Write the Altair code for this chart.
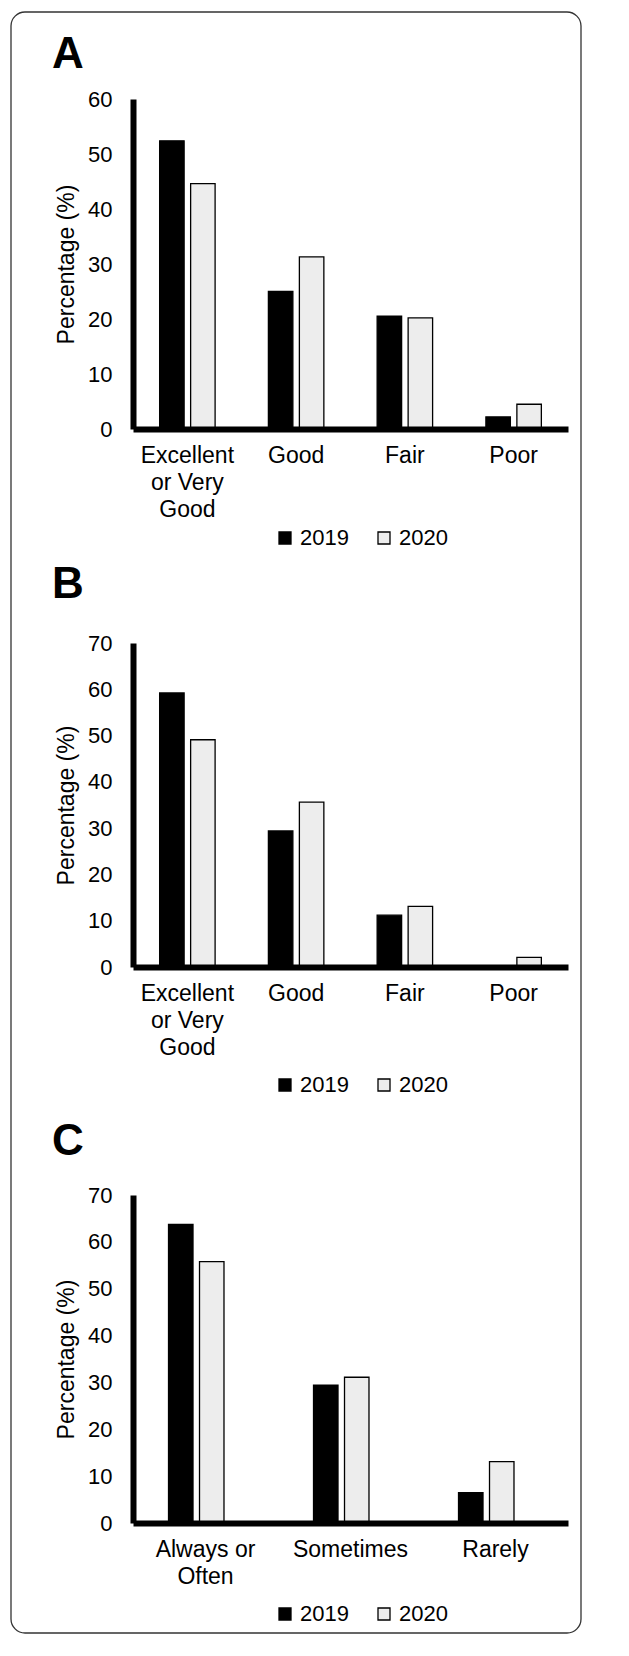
import altair as alt
import pandas as pd

FONT = "Liberation Sans"
YEARS = ["2019", "2020"]
YEAR_COLORS = ["#000000", "#ededed"]

A_CATS = ["Excellent or Very Good", "Good", "Fair", "Poor"]
A_2019 = [52.4, 25.0, 20.5, 2.2]
A_2020 = [44.6, 31.3, 20.2, 4.5]

B_CATS = ["Excellent or Very Good", "Good", "Fair", "Poor"]
B_2019 = [59.2, 29.4, 11.2, 0.0]
B_2020 = [49.1, 35.6, 13.1, 2.1]

C_CATS = ["Always or Often", "Sometimes", "Rarely"]
C_2019 = [63.7, 29.4, 6.5]
C_2020 = [55.8, 31.1, 13.1]

LABEL_LINES = {
    "Excellent or Very Good": ["Excellent", "or Very", "Good"],
    "Always or Often": ["Always or", "Often"],
}

PLOT_W = 435


def label_expr():
    parts = []
    for k, lines in LABEL_LINES.items():
        arr = "[" + ", ".join("'" + s + "'" for s in lines) + "]"
        parts.append("datum.label == '" + k + "' ? " + arr + " : ")
    return "".join(parts) + "datum.label"


def panel(letter, cats, v19, v20, ymax, height, legend_y, letter_y, border=False):
    df = pd.DataFrame({
        "category": cats * 2,
        "year": [YEARS[0]] * len(cats) + [YEARS[1]] * len(cats),
        "value": v19 + v20,
    })
    bars = alt.Chart(df).mark_bar(stroke="black", strokeWidth=1.3).encode(
        x=alt.X(
            "category:N", sort=cats, title=None,
            scale=alt.Scale(paddingInner=0.49, paddingOuter=0.245),
            axis=alt.Axis(
                labelAngle=0, labelFontSize=23, labelFont=FONT, labelColor="black",
                labelPadding=15, labelLineHeight=27, labelExpr=label_expr(),
                domainColor="black", domainWidth=6, ticks=False, zindex=1,
                labelLimit=0,
            ),
        ),
        xOffset=alt.XOffset("year:N", sort=YEARS,
                            scale=alt.Scale(paddingInner=0.21, paddingOuter=0)),
        y=alt.Y(
            "value:Q", title="Percentage (%)",
            scale=alt.Scale(domain=[0, ymax], nice=False),
            axis=alt.Axis(
                values=list(range(0, ymax + 1, 10)), grid=False, ticks=False,
                domainWidth=6, domainColor="black", labelFontSize=22,
                labelFont=FONT, labelColor="black", labelPadding=21,
                titleFontSize=23, titleFont=FONT, titleFontWeight="normal",
                titleColor="black", titlePadding=9, zindex=1,
            ),
        ),
        color=alt.Color(
            "year:N",
            scale=alt.Scale(domain=YEARS, range=YEAR_COLORS),
            legend=alt.Legend(
                title=None, orient="none", legendX=141, legendY=legend_y,
                direction="horizontal", symbolType="square", symbolSize=144,
                symbolStrokeColor="black", symbolStrokeWidth=1.3,
                labelFontSize=22, labelFont=FONT, labelColor="black",
                labelOffset=4, columnPadding=24, padding=0,
            ),
        ),
    )
    letter_df = pd.DataFrame({"t": [letter]})
    txt = alt.Chart(letter_df).mark_text(
        font=FONT, fontSize=44, fontWeight="bold", align="left",
        baseline="alphabetic", color="black",
    ).encode(text="t:N", x=alt.value(-81), y=alt.value(letter_y))
    layers = [bars, txt]
    if border:
        bdf = pd.DataFrame({"b": [0]})
        rect = alt.Chart(bdf).mark_rect(
            fill="transparent", stroke="#333333", strokeWidth=1.3, cornerRadius=14,
        ).encode(x=alt.value(-122), x2=alt.value(448),
                 y=alt.value(-87), y2=alt.value(1534))
        layers.append(rect)
    return alt.layer(*layers).properties(width=PLOT_W, height=height)


pa = panel("A", A_CATS, A_2019, A_2020, 60, 330, 428, -31, border=True)
pb = panel("B", B_CATS, B_2019, B_2020, 70, 324, 431, -45)
pc = panel("C", C_CATS, C_2019, C_2020, 70, 328, 408, -40)

inner = alt.vconcat(pb, pc, spacing=228, bounds="flush").resolve_legend(
    color="independent")
chart = alt.vconcat(pa, inner, spacing=214, bounds="flush").properties(
    padding={"left": 1, "top": 2, "right": 0, "bottom": 0},
    background="white",
).resolve_legend(color="independent").configure_view(stroke="transparent")

chart.save("out.html", embed_options={"renderer": "svg", "actions": False})
